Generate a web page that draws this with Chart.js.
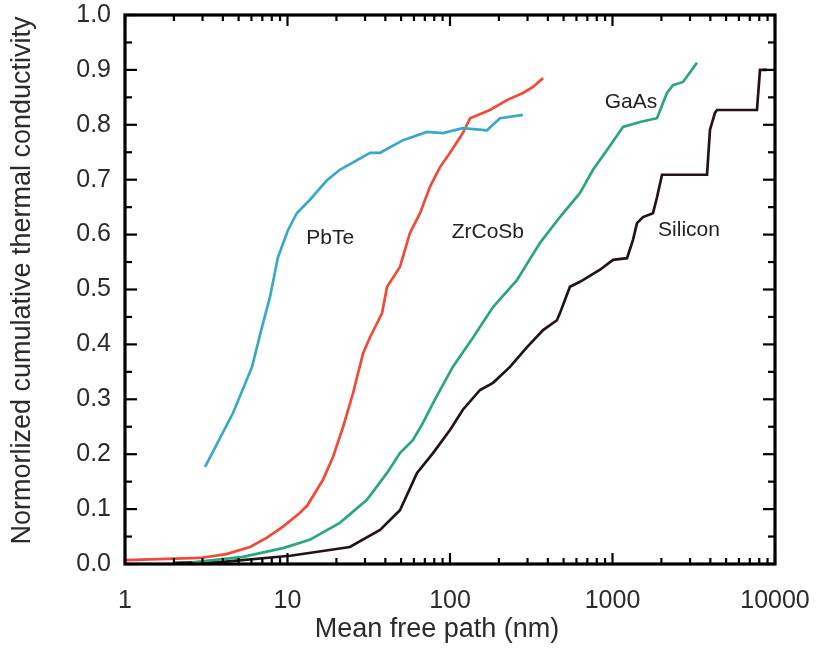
<!DOCTYPE html>
<html>
<head>
<meta charset="utf-8">
<script src="https://cdn.jsdelivr.net/npm/chart.js@4.4.1/dist/chart.umd.min.js"></script>
<style>
html,body{margin:0;padding:0;background:#fff;}
#wrap{width:816px;height:653px;}
</style>
</head>
<body>
<div id="wrap"><canvas id="c" width="816" height="653"></canvas></div>
<script>
// ---- data (mean free path in nm, normalized cumulative conductivity) ----
const pbteX = [3.11, 4.62, 6.05, 6.97, 7.8, 8.74, 10.07, 11.4, 13.7, 17.5, 21.0, 32.2, 37.1, 51.4, 72.2, 90.6, 120, 169, 203, 281];
const pbteY = [0.177, 0.275, 0.359, 0.432, 0.486, 0.559, 0.608, 0.639, 0.663, 0.699, 0.718, 0.749, 0.749, 0.772, 0.787, 0.785, 0.794, 0.790, 0.812, 0.818];

const zrcosbX = [1.0, 2.9, 4.2, 5.88, 7.48, 9.38, 11.9, 13.2, 16.5, 19.05, 22.0, 25.3, 29.2, 32.2, 38.2, 41.0, 49.2, 56.7, 65.4, 75.3, 86.8, 100, 120, 133, 176, 224, 281, 324, 374];
const zrcosbY = [0.007, 0.011, 0.018, 0.031, 0.048, 0.068, 0.093, 0.106, 0.153, 0.195, 0.250, 0.311, 0.384, 0.413, 0.457, 0.505, 0.541, 0.603, 0.639, 0.687, 0.723, 0.749, 0.785, 0.812, 0.827, 0.845, 0.858, 0.869, 0.885];

const gaasX = [2.6, 5.32, 9.38, 13.7, 21.0, 30.8, 41.0, 49.2, 59.2, 68.2, 78.6, 104, 139, 184, 258, 358, 475, 631, 759, 925, 1161, 1476, 1879, 2163, 2356, 2716, 3311];
const gaasY = [0.003, 0.013, 0.029, 0.044, 0.075, 0.117, 0.166, 0.202, 0.226, 0.257, 0.293, 0.359, 0.413, 0.468, 0.517, 0.585, 0.632, 0.676, 0.718, 0.754, 0.796, 0.805, 0.812, 0.858, 0.872, 0.878, 0.913];

const siliconX = [2.0, 4.0, 10.4, 24.2, 37.1, 49.2, 62.7, 78.6, 100, 120, 153, 184, 234, 298, 374, 455, 475, 547, 631, 838, 1007, 1228, 1336, 1415, 1541, 1775, 1879, 2017, 3816, 3981, 4275, 4400, 7745, 8085, 8930];
const siliconY = [0.002, 0.004, 0.015, 0.031, 0.062, 0.098, 0.166, 0.202, 0.244, 0.281, 0.317, 0.330, 0.359, 0.395, 0.426, 0.444, 0.457, 0.505, 0.514, 0.536, 0.554, 0.557, 0.590, 0.621, 0.632, 0.639, 0.668, 0.709, 0.709, 0.791, 0.822, 0.827, 0.827, 0.900, 0.900];

const seriesNames = ['PbTe', 'ZrCoSb', 'GaAs', 'Silicon'];
const labelX = [18.3, 171, 1300, 2958];
const labelY = [0.594, 0.605, 0.842, 0.608];

const xTickLabels = [1, 10, 100, 1000, 10000];
const yTickValues = [0, 0.1, 0.2, 0.3, 0.4, 0.5, 0.6, 0.7, 0.8, 0.9, 1.0];
const yTitle = 'Normorlized cumulative thermal conductivity';
const xTitle = 'Mean free path (nm)';

const FONT = '"Liberation Sans", Arial, sans-serif';
const toPts = (xs, ys) => xs.map((v, i) => ({x: v, y: ys[i]}));

const frameTicks = {
  id: 'frameTicks',
  afterDatasetsDraw(chart) {
    const {ctx, chartArea: a, scales: {x, y}} = chart;
    ctx.save();
    ctx.strokeStyle = '#000';
    ctx.lineWidth = 2.2;
    const seg = (x1, y1, x2, y2) => { ctx.beginPath(); ctx.moveTo(x1, y1); ctx.lineTo(x2, y2); ctx.stroke(); };
    for (let d = 0; d < xTickLabels.length; d++) {
      const base = xTickLabels[d];
      const px = x.getPixelForValue(base);
      seg(px, a.bottom, px, a.bottom - 11);
      seg(px, a.top, px, a.top + 11);
      if (d < xTickLabels.length - 1) {
        for (let m = 2; m <= 9; m++) {
          const pm = x.getPixelForValue(base * m);
          seg(pm, a.bottom, pm, a.bottom - 6);
          seg(pm, a.top, pm, a.top + 6);
        }
      }
    }
    for (let i = 0; i < yTickValues.length; i++) {
      const py = y.getPixelForValue(yTickValues[i]);
      seg(a.left, py, a.left + 12, py);
      seg(a.right, py, a.right - 12, py);
      if (i < yTickValues.length - 1) {
        const pm = y.getPixelForValue(yTickValues[i] + 0.05);
        seg(a.left, pm, a.left + 7, pm);
        seg(a.right, pm, a.right - 7, pm);
      }
    }
    ctx.lineWidth = 3.2;
    ctx.strokeRect(a.left, a.top, a.right - a.left, a.bottom - a.top);
    // series labels
    ctx.fillStyle = '#222';
    ctx.font = '21px ' + FONT;
    ctx.textAlign = 'center';
    ctx.textBaseline = 'middle';
    for (let i = 0; i < seriesNames.length; i++) {
      ctx.fillText(seriesNames[i], x.getPixelForValue(labelX[i]), y.getPixelForValue(labelY[i]));
    }
    // x axis title
    ctx.fillStyle = '#2b2b2b';
    ctx.font = '27px ' + FONT;
    ctx.fillText(xTitle, (a.left + a.right) / 2 - 13, a.bottom + 66);
    // y axis title
    ctx.translate(23, (a.top + a.bottom) / 2 - 9);
    ctx.rotate(-Math.PI / 2);
    ctx.fillText(yTitle, 0, 0);
    ctx.restore();
  }
};

const lineDs = (label, pts, color) => ({
  label, data: pts, borderColor: color, backgroundColor: color,
  borderWidth: 2.7, pointRadius: 0, tension: 0, fill: false
});

new Chart(document.getElementById('c'), {
  type: 'line',
  data: {
    datasets: [
      lineDs('PbTe', toPts(pbteX, pbteY), '#3aa8c9'),
      lineDs('ZrCoSb', toPts(zrcosbX, zrcosbY), '#f04a38'),
      lineDs('GaAs', toPts(gaasX, gaasY), '#2aa67c'),
      lineDs('Silicon', toPts(siliconX, siliconY), '#231314')
    ]
  },
  options: {
    responsive: false,
    animation: false,
    layout: {padding: {left: 0, right: 41, top: 15, bottom: 0}},
    plugins: {legend: {display: false}, tooltip: {enabled: false}},
    scales: {
      x: {
        type: 'logarithmic', min: 1, max: 10000,
        grid: {display: false, drawTicks: false},
        border: {display: false},
        ticks: {
          autoSkip: false, maxRotation: 0, padding: 22,
          color: '#2b2b2b',
          font: {family: FONT, size: 25},
          callback: (v) => xTickLabels.includes(v) ? String(v) : null
        },
        title: {display: false},
        afterFit: (s) => { s.height = 89; s.paddingLeft = 0; s.paddingRight = 0; }
      },
      y: {
        type: 'linear', min: 0, max: 1,
        grid: {display: false, drawTicks: false},
        border: {display: false},
        ticks: {
          stepSize: 0.1, padding: 14, color: '#2b2b2b',
          font: {family: FONT, size: 25},
          callback: (v) => Number(v).toFixed(1)
        },
        title: {display: false},
        afterFit: (s) => { s.width = 125; s.paddingTop = 0; s.paddingBottom = 0; }
      }
    }
  },
  plugins: [frameTicks]
});
</script>
</body>
</html>
